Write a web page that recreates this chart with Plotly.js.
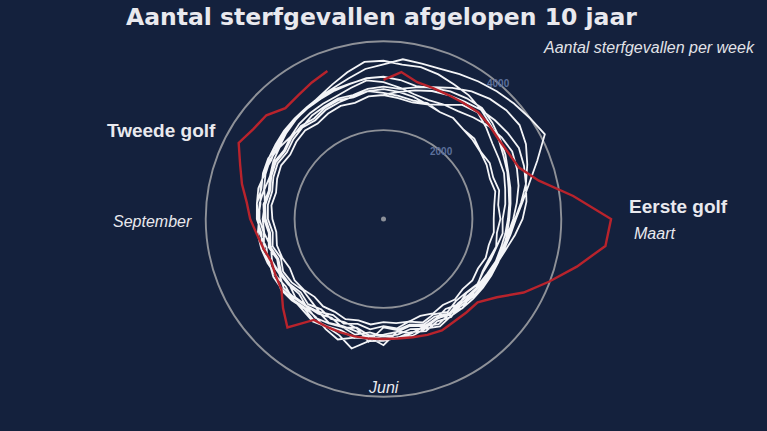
<!DOCTYPE html>
<html>
<head>
<meta charset="utf-8">
<script src="https://cdn.plot.ly/plotly-3.0.1.min.js"></script>
<style>
  html, body { margin: 0; padding: 0; background: #14213d; overflow: hidden; }
  /* plot is taller than the window so the circle can reach past the top/bottom */
  #chart { position: absolute; left: 0; top: -21px; width: 767px; height: 480px; }
</style>
</head>
<body>
<div id="chart"></div>
<script>
// Weekly deaths (Netherlands), week 1..52 per year; 2020 up to week 50.
const WEEKS = Array.from({ length: 52 }, (_, i) => i + 1);

const y2011 = [2800,2880,2830,2760,2720,2760,2700,2680,2650,2620, 2560,2590,2510,2480,2500,2440,2460,2400,2430,2380, 2420,2350,2400,2330,2380,2360,2320,2390,2350,2410, 2360,2390,2340,2400,2430,2380,2440,2470,2430,2500, 2540,2490,2560,2600,2550,2620,2660,2610,2680,2720,2690,2780];
const y2012 = [2790,2740,2700,2760,2900,3120,3200,3090,2980,2930, 2900,2820,2760,2680,2700,2620,2580,2540,2570,2490, 2460,2540,2420,2490,2380,2480,2410,2500,2430,2520, 2440,2540,2460,2420,2510,2550,2470,2570,2510,2600, 2620,2580,2650,2690,2640,2710,2750,2700,2780,2810,2840,2900];
const y2013 = [2920,2880,2980,3080,3150,3210,3290,3350,3400,3440, 3380,3300,3240,3130,2980,2840,2750,2660,2620,2570, 2530,2590,2480,2540,2450,2520,2440,2780,2530,2480, 2540,2470,2560,2490,2570,2600,2530,2620,2570,2650, 2680,2630,2700,2740,2690,2760,2800,2750,2830,2860,2820,2900];
const y2014 = [2840,2790,2750,2790,2720,2760,2700,2730,2660,2700, 2640,2680,2600,2630,2570,2610,2540,2520,2580,2500, 2560,2460,2540,2580,2480,2560,2600,2640,2520,2610, 2510,2590,2620,2540,2600,2640,2560,2660,2600,2690, 2720,2660,2730,2770,2720,2790,2760,2830,2860,2900,2870,2950];
const y2015 = [2980,2950,3050,3170,3330,3490,3610,3690,3720,3620, 3460,3300,3120,2960,2860,2760,2700,2640,2600,2630, 2570,2620,2530,2600,2640,2550,2840,2680,2600,2580, 2640,2550,2610,2650,2580,2640,2680,2610,2700,2720, 2690,2760,2730,2800,2840,2790,2860,2900,2930,2960,3040,3140];
const y2016 = [3080,2980,2890,2860,2910,2950,3050,3160,3230,3270, 3210,3130,3020,2920,2820,2760,2720,2680,2640,2610, 2680,2580,2550,2640,2550,2620,2640,2570,2680,2600, 2650,2700,2620,2680,2730,2650,2710,2770,2710,2790, 2810,2770,2840,2880,2850,2920,2980,3030,3110,3240,3400,3560];
const y2017 = [3560,3500,3520,3480,3420,3380,3300,3210,3150,3050, 2980,2900,2850,2800,2760,2720,2700,2660,2640,2610, 2580,2680,2600,2700,2620,2690,2740,2650,2760,2680, 2730,2770,2690,2760,2800,2730,2790,2830,2760,2850, 2870,2830,2900,2930,2880,2960,3000,3050,3100,3160,3260,3400];
const y2018 = [3480,3620,3600,3610,3680,3760,3840,3920,4000,4100, 3700,3380,3150,2980,2880,2800,2750,2700,2680,2660, 2620,2600,2670,2580,2650,2700,2640,2710,2750,2900, 2800,2680,2670,2730,2670,2740,2780,2710,2800,2820, 2790,2850,2890,2850,2920,2950,2990,3020,3050,3090,3130,3190];
const y2019 = [3200,3150,3080,3150,3240,3300,3340,3270,3180,3100, 3000,2940,2880,2830,2800,2780,2760,2740,2720,2700, 2680,2660,2730,2640,2710,2680,2740,2770,3000,2800, 2740,2800,2740,2720,2780,2800,2750,2830,2850,2800, 2870,2900,2860,2920,2950,2990,3020,3050,3090,3120,3140,3180];
const y2020 = [3130,3330,3170,3150,3150,3170,3210,3180,3150,3180, 3260,3600,4300,5120,5030,4480,3980,3560,3100,2830, 2810,2800,2830,2790,2740,2710,2700,2710,2720,2730, 2740,2760,3260,3020,2790,2740,2700,2780,2870,3000, 3100,3280,3450,3680,3560,3520,3330,3380,3470,3560];

const PAST_YEARS = [y2011, y2012, y2013, y2014, y2015, y2016, y2017, y2018, y2019];
const RADIAL_TICKS = [2000, 4000];
const R_MAX = 5400;
const LABEL_BEARING = 40.5;          // compass direction of the 2000/4000 labels

// week number -> angle in degrees (week 1 at the top, clockwise)
const weekToDeg = w => (w - 1) * 360 / 52;

const BG = "#14213d";
const TEXT = "#e9e9ee";
const W = 767, H = 480, SHIFT = 21;  // div size, offset above the window
const RADIUS_PX = H / 2;             // polar fills the full div height
const px = x => x / W;
const py = y => 1 - (y + SHIFT) / H; // window y -> paper y

// the nine past years run as one continuous white line, 2020 on top in red
const pastR = PAST_YEARS.flat();
const pastTheta = PAST_YEARS.flatMap(vals => WEEKS.slice(0, vals.length).map(weekToDeg));

const traces = [
  {
    type: "scatterpolar",
    mode: "lines",
    r: pastR,
    theta: pastTheta,
    line: { color: "#f3f4f7", width: 1.8 },
    hoverinfo: "skip",
  },
  {
    type: "scatterpolar",
    mode: "lines",
    r: y2020,
    theta: WEEKS.slice(0, y2020.length).map(weekToDeg),
    line: { color: "#b8232c", width: 2.4 },
    hoverinfo: "skip",
  },
  {
    type: "scatterpolar",
    mode: "markers",
    r: [0],
    theta: [0],
    marker: { color: "#8c9099", size: 5 },
    hoverinfo: "skip",
  },
];

const note = (text, x, y, opts = {}) => Object.assign({
  text, x: px(x), y: py(y), xref: "paper", yref: "paper",
  xanchor: "center", yanchor: "middle", showarrow: false,
  font: { family: "Liberation Sans, Arial, sans-serif", size: 16, color: TEXT },
}, opts);

// radial tick labels sit centred on their grid circle along LABEL_BEARING
const tickNotes = RADIAL_TICKS.map(v => {
  const rad = LABEL_BEARING * Math.PI / 180;
  const dist = v / R_MAX * RADIUS_PX;
  return {
    text: "<b>" + v + "</b>",
    x: 0.5 + dist * Math.sin(rad) / W,
    y: 0.5 + dist * Math.cos(rad) / H,
    xref: "paper", yref: "paper",
    xanchor: "center", yanchor: "middle", showarrow: false,
    font: { family: "Liberation Sans, Arial, sans-serif", size: 10, color: "#5b6f9b" },
  };
});

const layout = {
  width: W,
  height: H,
  paper_bgcolor: BG,
  plot_bgcolor: BG,
  margin: { l: 0, r: 0, t: 0, b: 0, pad: 0 },
  showlegend: false,
  polar: {
    domain: { x: [0, 1], y: [0, 1] },
    bgcolor: "rgba(0,0,0,0)",
    radialaxis: {
      range: [0, R_MAX],
      tickvals: RADIAL_TICKS,
      showticklabels: false,
      showline: false,
      ticks: "",
      gridcolor: "#8e9198",
      gridwidth: 1.9,
    },
    angularaxis: {
      direction: "clockwise",
      rotation: 90,
      thetaunit: "degrees",
      showgrid: false,
      showline: false,
      showticklabels: false,
      ticks: "",
    },
  },
  annotations: [
    note("<b>Aantal sterfgevallen afgelopen 10 jaar</b>", 381.5, 17,
      { font: { family: "DejaVu Sans, Verdana, sans-serif", size: 23.5, color: TEXT } }),
    note("<i>Aantal sterfgevallen per week</i>", 757, 47.5,
      { xanchor: "right", font: { family: "Liberation Sans, Arial, sans-serif", size: 16, color: "#e2e3e8" } }),
    note("<b>Tweede golf</b>", 161.5, 130,
      { font: { family: "Liberation Sans, Arial, sans-serif", size: 19, color: TEXT } }),
    note("<b>Eerste golf</b>", 678, 206,
      { font: { family: "Liberation Sans, Arial, sans-serif", size: 19, color: TEXT } }),
    note("<i>Maart</i>", 632, 233, { xanchor: "left" }),
    note("<i>September</i>", 152, 221),
    note("<i>Juni</i>", 383, 387),
    ...tickNotes,
  ],
};

Plotly.newPlot("chart", traces, layout, { displayModeBar: false, staticPlot: true });
</script>
</body>
</html>
